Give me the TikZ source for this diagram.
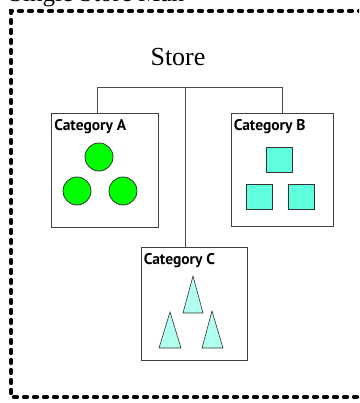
\documentclass[tikz,border=0pt]{standalone}
\usepackage{fontspec}
\setmainfont{Liberation Serif}
\newfontfamily\catfont{PT Sans}
\begin{document}
\begin{tikzpicture}[x=1pt,y=-1pt,
  catbox/.style={draw=black!75,line width=0.9pt,fill=white,minimum width=107pt,minimum height=114pt,inner sep=0pt},
  catlabel/.style={font=\catfont\bfseries\fontsize{15.5}{15.5}\selectfont,inner sep=0pt,anchor=base west},
  treeline/.style={draw=black!70,line width=0.9pt},
  blob/.style={draw=black!80,line width=0.8pt,fill=green},
  sq/.style={draw=black!80,line width=0.8pt,fill=aqua},
  tri/.style={draw=black!80,line width=0.6pt,fill=paleaqua},
  frame/.style={line width=4.2pt,line cap=round,dash pattern=on 3pt off 7pt}]
\definecolor{aqua}{HTML}{5FFFDD}
\definecolor{paleaqua}{HTML}{B0FFF0}
\useasboundingbox (0,0) rectangle (359,403);
\clip (0,0) rectangle (359,403);
% top caption (cut off at the top edge, as in the reference)
\node[font=\fontsize{25}{25}\selectfont,anchor=base west,inner sep=0pt] (title) at (9,2) {Single Store Man};
% dotted frame
\draw[frame] (372,11) -- (11,11) -- (11,397) -- (372,397);
% store
\node[font=\fontsize{26}{26}\selectfont,inner sep=0pt] (store) at (178,57) {Store};
\coordinate (bar) at (185,87);
\coordinate (barA) at (97,87);
\coordinate (barB) at (282,87);
% categories
\node[catbox] (catA) at (105,170) {};
\node[catbox,minimum width=102pt,minimum height=113pt] (catB) at (282,169.5) {};
\node[catbox,minimum width=106pt,minimum height=113pt] (catC) at (194,303.5) {};
\draw[treeline] (barA |- catA.north) -- (barA) -- (barB) -- (barB |- catB.north);
\draw[treeline] (bar) -- (bar |- catC.north);
\node[catlabel] (labA) at ([shift={(3,18)}]catA.north west) {Category A};
\node[catlabel] (labB) at ([shift={(3,18)}]catB.north west) {Category B};
\node[catlabel] (labC) at ([shift={(3,18)}]catC.north west) {Category C};
% circles
\draw[blob] (99,157) circle (14);
\draw[blob] (77,191) circle (14);
\draw[blob] (123,191) circle (14);
% squares
\draw[sq] (266,147) rectangle (292,172);
\draw[sq] (246,184) rectangle (272,209);
\draw[sq] (288,184) rectangle (314,209);
% triangles
\draw[tri] (193,276) -- (203,313) -- (183,313) -- cycle;
\draw[tri] (170,312) -- (181,348) -- (159,348) -- cycle;
\draw[tri] (212,311) -- (223,348) -- (202,348) -- cycle;
\end{tikzpicture}
\end{document}
